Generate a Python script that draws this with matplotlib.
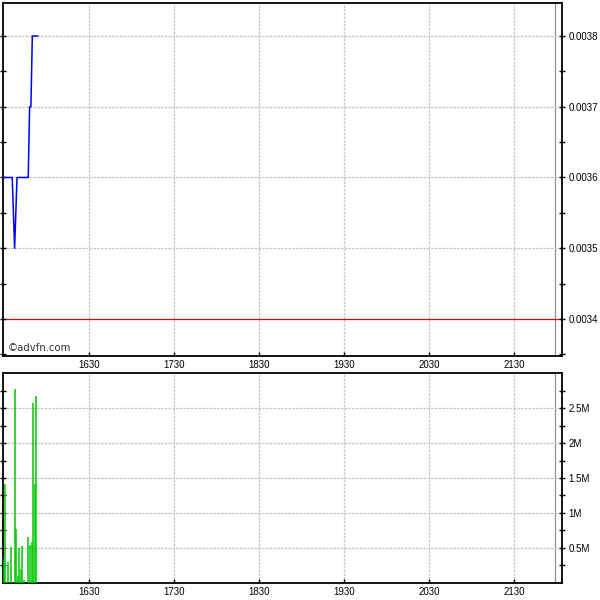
import matplotlib
matplotlib.use("Agg")
import matplotlib.pyplot as plt
from matplotlib.ticker import FixedLocator, FuncFormatter

# ---- data (time in minutes after 15:00) ----
price_times = [29.3, 35.6, 37.3, 39.0, 46.9, 47.9, 48.8, 49.8, 53.6]
price_values = [0.0036, 0.0036, 0.0035, 0.0036, 0.0036, 0.0037, 0.0037, 0.0038, 0.0038]

vol_times = [29.6, 30.6, 32.8, 34.9, 37.8, 38.4, 39.9, 40.6, 42.0, 42.7, 43.6,
             46.9, 48.4, 49.9, 50.5, 51.8, 52.7]
vol_values = [0.34, 1.41, 0.30, 0.51, 2.77, 0.77, 0.10, 0.50, 0.20, 0.53, 0.04,
              0.66, 0.54, 0.59, 2.57, 1.41, 2.67]  # millions

x_ticks = [90, 150, 210, 270, 330, 390]
x_labels = ["1630", "1730", "1830", "1930", "2030", "2130"]
price_ticks = [0.0034, 0.0035, 0.0036, 0.0037, 0.0038]
vol_ticks = [0.5, 1.0, 1.5, 2.0, 2.5]
ref_price = 0.0034
session_end = 418.5

plt.rcParams['font.family'] = ['Liberation Sans', 'DejaVu Sans']

fig = plt.figure(figsize=(6, 6), dpi=100)
W = H = 600.0
def rect(l, t, r, b):
    return [l / W, 1 - b / H, (r - l) / W, (b - t) / H]

ax1 = fig.add_axes(rect(3, 3, 562, 356))
ax2 = fig.add_axes(rect(3, 373.3, 562, 582.7))

xlim = (29.1, 423.7)
grid_c = '#c4c4bc'

for ax in (ax1, ax2):
    ax.set_xlim(*xlim)
    for s in ax.spines.values():
        s.set_linewidth(1.3)
        s.set_color('black')
    ax.set_xticks(x_ticks)
    ax.set_xticklabels(x_labels, fontsize=7)
    ax.tick_params(axis='x', direction='in', length=3, width=1, pad=3)
    ax.yaxis.tick_right()
    ax.tick_params(axis='y', which='both', left=True, right=True, direction='inout',
                   length=5, width=1, labelsize=7, pad=2)
    for xt in x_ticks:
        ax.axvline(xt, color=grid_c, lw=0.9, ls=(0, (2, 1)), zorder=0)
    ax.axvline(session_end, color='#909090', lw=0.9, zorder=0)

# ---- price panel ----
ax1.set_ylim(0.0033477, 0.0038466)
ax1.yaxis.set_major_locator(FixedLocator(price_ticks))
ax1.yaxis.set_minor_locator(FixedLocator([0.00335, 0.00345, 0.00355, 0.00365, 0.00375]))
ax1.yaxis.set_major_formatter(FuncFormatter(lambda v, p: f"{v:.4f}"))
for yt in price_ticks:
    if abs(yt - ref_price) > 1e-9:
        ax1.axhline(yt, color=grid_c, lw=0.9, ls=(0, (2, 1)), zorder=0)
ax1.axhline(ref_price, color='#dd0000', lw=0.9, zorder=1)
ax1.plot(price_times, price_values, color='#0000ff', lw=1.1, zorder=3)
ax1.text(0.008, 0.008, "©advfn.com", transform=ax1.transAxes, fontsize=7.3,
         color='#333333', ha='left', va='bottom', family=['DejaVu Sans'])

# ---- volume panel ----
ax2.set_ylim(0, 3.0)
ax2.yaxis.set_major_locator(FixedLocator(vol_ticks))
ax2.yaxis.set_minor_locator(FixedLocator([0.25, 0.75, 1.25, 1.75, 2.25, 2.75]))
ax2.yaxis.set_major_formatter(FuncFormatter(lambda v, p: f"{v:g}M"))
for yt in vol_ticks:
    ax2.axhline(yt, color=grid_c, lw=0.9, ls=(0, (2, 1)), zorder=0)
ax2.vlines(vol_times, 0, vol_values, color='#00c800', lw=1.1, zorder=3)

fig.savefig("out.png", dpi=100)
